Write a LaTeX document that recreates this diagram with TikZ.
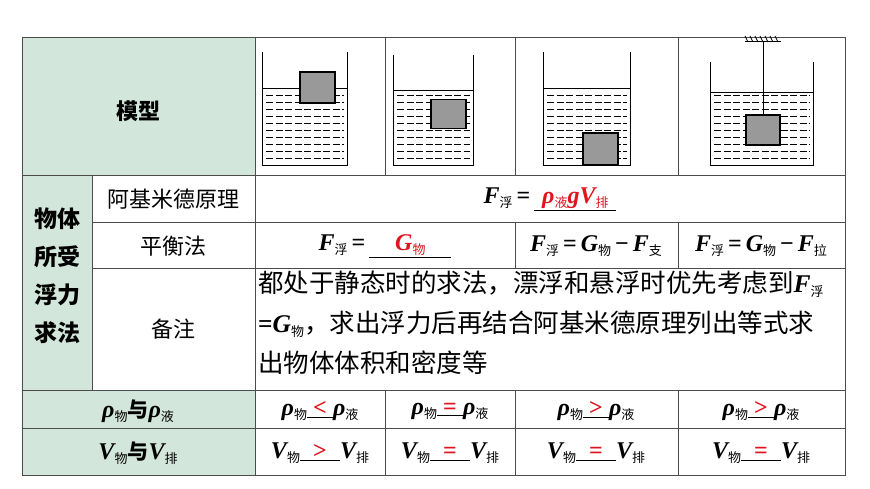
\documentclass[tikz,border=0pt]{standalone}
\usepackage{fontspec}
\setmainfont{Noto Sans CJK SC}
\newfontfamily\cjk{Noto Sans CJK SC}
\newfontfamily\mf{Liberation Serif}[BoldItalicFont=* Bold Italic]
\definecolor{hdr}{HTML}{D3E6DC}
\definecolor{rd}{HTML}{E0141E}
\newcommand\Q[2]{{\mf\bfseries\itshape #1}\raisebox{-4pt}{\cjk\fontsize{13}{13}\selectfont #2}}
\newcommand\Eq{{\mf\bfseries\,=\,}}
\newcommand\Mi{{\mf\bfseries\,−\,}}
\newcommand\Bl[2]{\underline{\makebox[#1]{\color{rd}#2}}}
\begin{document}
\begin{tikzpicture}[x=1pt,y=-1pt,
  lab/.style={font=\fontsize{22}{25}\selectfont},
  eq/.style={font=\fontsize{24}{28}\selectfont},
  grid/.style={draw=black!70,line width=0.9pt},
  liq/.style={line width=0.9pt,dash pattern=on 7pt off 2.5pt},
  blk/.style={draw,line width=1.1pt,fill=black!40}]
\useasboundingbox (0,0) rectangle (870,489);
\fill[white] (0,0) rectangle (870,489);
\fill[hdr] (22,37) rectangle (255,175);
\fill[hdr] (22,175) rectangle (92,390);
\fill[hdr] (22,390) rectangle (255,475);
\draw[grid] (22,37) rectangle (845,475);
\foreach \y in {175,390,428} \draw[grid] (22,\y) -- (845,\y);
\foreach \y in {222,268} \draw[grid] (92,\y) -- (845,\y);
\draw[grid] (92,175) -- (92,390);
\draw[grid] (255,37) -- (255,475);
\foreach \x in {385,678} {\draw[grid] (\x,37) -- (\x,175); \draw[grid] (\x,390) -- (\x,475);}
\draw[grid] (515,37) -- (515,175); \draw[grid] (515,390) -- (515,475);
\draw[grid] (515,222) -- (515,268); \draw[grid] (678,222) -- (678,268);
\foreach \L/\R/\T/\W in {262/347/52/88, 393/473/55/90, 543/630/52/88, 710/813/62/92} {
  \foreach \yy in {95,102,...,162} \draw[liq] (\L+4,\yy) -- (\R-3,\yy);
  \draw[line width=0.9pt] (\L,\W) -- (\R,\W);
  \draw[line width=0.9pt] (\L,\T) -- (\L,165) -- (\R,165) -- (\R,\T);
}
\node[blk,minimum width=35pt,minimum height=31pt,inner sep=0] (b1) at (317.5,87.5) {};
\node[blk,minimum width=35pt,minimum height=29pt,inner sep=0] (b2) at (448.5,114) {};
\node[blk,minimum width=35pt,minimum height=32pt,inner sep=0] (b3) at (600.5,149) {};
\node[blk,minimum width=34pt,minimum height=30pt,inner sep=0] (b4) at (763,130) {};
\coordinate (hook) at (763,42);
\draw[line width=0.9pt] (hook) -- (b4.north);
\draw[line width=1pt] (745,42) -- (781,42);
\foreach \i in {0,...,6} \draw[line width=0.7pt] (748+5*\i,42) -- (745+5*\i,36);
\node[lab,font=\fontsize{22}{25}\selectfont\bfseries] (t0) at (138,111) {模型};
\node[lab,font=\fontsize{23}{25}\selectfont\bfseries,align=center] (t1) at (57,276) {物体\\[13pt]所受\\[13pt]浮力\\[13pt]求法};
\node[lab] (t2) at (173,199) {阿基米德原理};
\node[lab] (t3) at (173,246) {平衡法};
\node[lab] (t4) at (173,329) {备注};
\node[eq] (e1) at (550,199) {\Q{F}{浮}\Eq\Bl{82pt}{\Q{ρ}{液}{\mf\bfseries\itshape g}\Q{V}{排}}};
\node[eq] (e2) at (385,246) {\Q{F}{浮}\Eq\Bl{82pt}{\Q{G}{物}}};
\node[eq] (e3) at (596,246) {\Q{F}{浮}\Eq\Q{G}{物}\Mi\Q{F}{支}};
\node[eq] (e4) at (761,246) {\Q{F}{浮}\Eq\Q{G}{物}\Mi\Q{F}{拉}};
\node[lab,anchor=north west,align=left,font=\fontsize{25.5}{40}\selectfont,inner sep=0] (e5) at (258,271) {都处于静态时的求法，漂浮和悬浮时优先考虑到\Q{F}{浮}\\{\mf\bfseries =}\Q{G}{物}，求出浮力后再结合阿基米德原理列出等式求\\出物体体积和密度等};
\node[eq] (r0) at (138,411) {\Q{ρ}{物}{\cjk\bfseries\fontsize{21}{25}\selectfont 与}\Q{ρ}{液}};
\node[eq] (s0) at (138,453) {\Q{V}{物}{\cjk\bfseries\fontsize{21}{25}\selectfont 与}\Q{V}{排}};
\foreach \x/\s [count=\i] in {320/<,450/=,596/>,761/>}
  \node[eq] (r\i) at (\x,411) {\Q{ρ}{物}\Bl{26pt}{\mf\bfseries\s}\Q{ρ}{液}};
\foreach \x/\s [count=\i] in {320/>,450/=,596/=,761/=}
  \node[eq] (s\i) at (\x,453) {\Q{V}{物}\Bl{40pt}{\mf\bfseries\s}\Q{V}{排}};
\end{tikzpicture}
\end{document}
